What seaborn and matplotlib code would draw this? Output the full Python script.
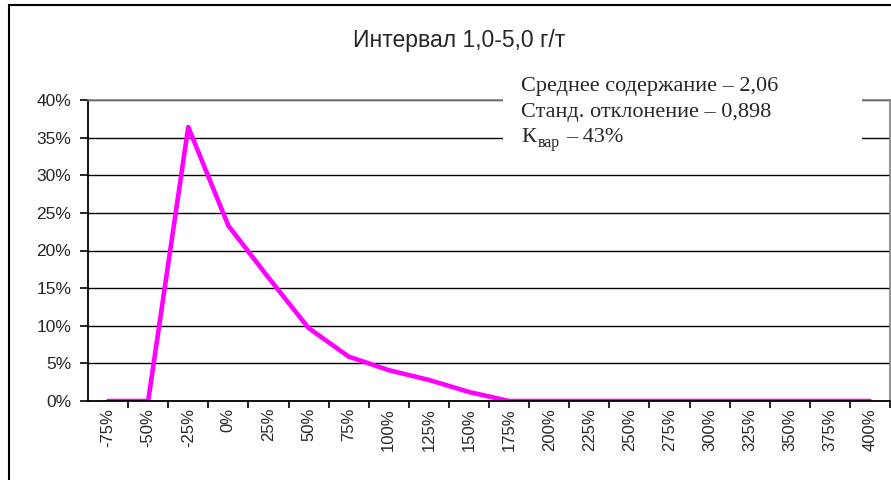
import matplotlib
matplotlib.use("Agg")
import matplotlib.pyplot as plt
from matplotlib.patches import Rectangle
from matplotlib.lines import Line2D
from matplotlib.ticker import MultipleLocator, FuncFormatter
import seaborn as sns
import pandas as pd

# data
categories = ["-75%", "-50%", "-25%", "0%", "25%", "50%", "75%", "100%", "125%", "150%",
              "175%", "200%", "225%", "250%", "275%", "300%", "325%", "350%", "375%", "400%"]
share = [0.0, 0.0, 36.4, 23.3, 16.4, 9.7, 5.9, 4.1, 2.8, 1.2,
         0.0, 0.0, 0.0, 0.0, 0.0, 0.0, 0.0, 0.0, 0.0, 0.0]
title = "Интервал 1,0-5,0 г/т"
stats_lines = ["Среднее содержание – 2,06", "Станд. отклонение – 0,898"]

df = pd.DataFrame({"cat": categories, "share": share})

sns.set_style("white")
plt.rcParams["font.family"] = ["Liberation Sans", "DejaVu Sans"]

fig = plt.figure(figsize=(8.91, 4.8), dpi=100)
W, H = 891, 480
ax = fig.add_axes([88 / W, 1 - 401 / H, (890 - 88) / W, (401 - 100) / H])

sns.lineplot(data=df, x="cat", y="share", ax=ax, color="#FF00FF", linewidth=3.3, sort=False)

ax.set_xlim(-0.5, len(categories) - 0.5)
ax.set_ylim(0, 40)
ax.yaxis.set_major_locator(MultipleLocator(5))
ax.yaxis.set_major_formatter(FuncFormatter(lambda v, p: f"{v:.0f}%"))
ax.grid(axis="y", color="black", linewidth=1)
ax.set_axisbelow(True)
ax.set_xlabel("")
ax.set_ylabel("")

# category ticks sit between the points, labels at the points
ax.set_xticks(range(len(categories)))
ax.set_xticklabels(categories, rotation=90)
ax.set_xticks([i + 0.5 for i in range(len(categories))], minor=True)
ax.tick_params(axis="x", which="major", length=0, pad=5, labelsize=12)
ax.tick_params(axis="x", which="minor", length=5, width=1.2, color="black", direction="out", bottom=True)
ax.tick_params(axis="y", length=6, width=1.2, color="black", direction="out", left=True, pad=6, labelsize=12.5)

for side in ["left", "bottom"]:
    ax.spines[side].set_color("black")
    ax.spines[side].set_linewidth(1.3)
for side in ["top", "right"]:
    ax.spines[side].set_color("#808080")
    ax.spines[side].set_linewidth(1.2)

fig.text(459 / W, 1 - 41 / H, title, ha="center", va="center", fontsize=16.5)

# white text box over the top gridlines
fig.patches.append(Rectangle((503 / W, 1 - 170 / H), (862 - 503) / W, (170 - 62) / H,
                             transform=fig.transFigure, facecolor="white", edgecolor="none", zorder=5))
serif = ["Liberation Serif", "DejaVu Serif"]
fig.text(521 / W, 1 - 86 / H, stats_lines[0], family=serif, fontsize=16, va="center", zorder=6)
fig.text(521 / W, 1 - 112 / H, stats_lines[1], family=serif, fontsize=16, va="center", zorder=6)
fig.text(521 / W, 1 - 138 / H, "К", family=serif, fontsize=16, va="center", zorder=6)
fig.text(538 / W, 1 - 143 / H, "вар", family=serif, fontsize=11.5, va="center", zorder=6)
fig.text(566 / W, 1 - 138 / H, "– 43%", family=serif, fontsize=16, va="center", zorder=6)

# chart area frame
fig.add_artist(Line2D([9 / W, 9 / W], [0, 1 - 5 / H], color="black", linewidth=1.5, transform=fig.transFigure))
fig.add_artist(Line2D([9 / W, 1], [1 - 5 / H, 1 - 5 / H], color="black", linewidth=1.5, transform=fig.transFigure))

fig.savefig("out.png", dpi=100)
